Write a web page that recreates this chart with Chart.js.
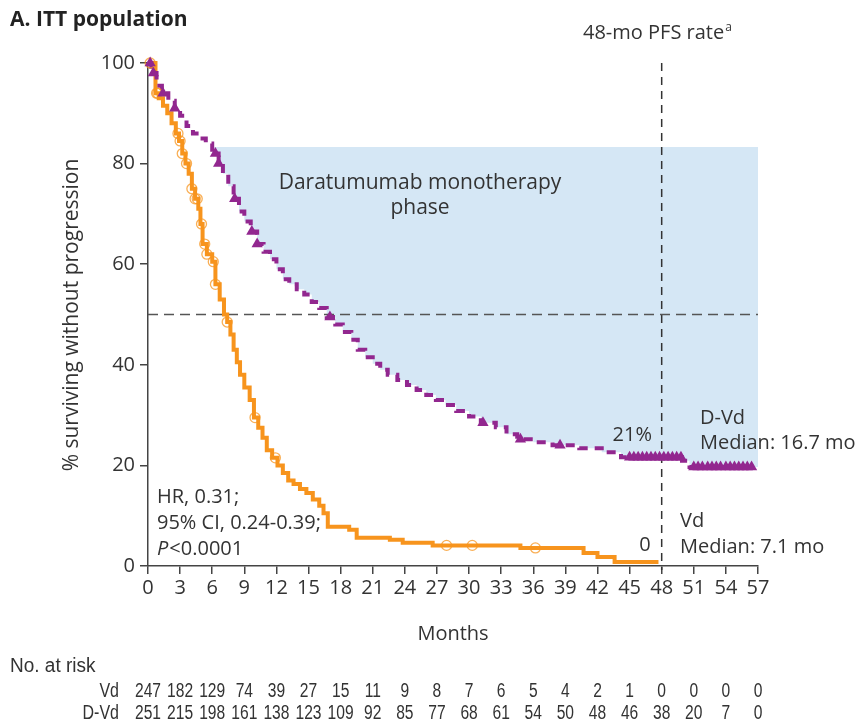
<!DOCTYPE html>
<html>
<head>
<meta charset="utf-8">
<script src="https://cdn.jsdelivr.net/npm/chart.js@4"></script>
<style>
  html, body { margin: 0; padding: 0; background: #fff; }
  canvas { display: block; }
</style>
</head>
<body>
<canvas id="pfs" width="862" height="724"></canvas>
<script>
// Kaplan-Meier steps: [month, % progression-free]
const vdCurve = [
  [0, 100], [0.7, 94], [1.0, 93], [1.4, 91.5], [1.8, 90], [2.2, 88], [2.6, 86], [2.9, 84.5],
  [3.2, 82], [3.5, 80], [3.8, 78], [4.1, 75], [4.4, 73], [4.7, 71], [4.9, 68], [5.1, 64],
  [5.5, 62], [6.0, 60.5], [6.3, 56], [6.7, 53], [7.1, 50], [7.4, 48.5], [7.7, 46], [8.0, 43],
  [8.3, 40.5], [8.6, 38], [9.0, 35.5], [9.5, 33], [9.9, 29.5], [10.3, 27.5], [10.7, 25.5],
  [11.1, 23], [11.6, 21.5], [12.1, 20], [12.6, 18.5], [13.1, 17], [13.6, 16.3], [14.2, 15.3],
  [14.8, 14.5], [15.4, 13.2], [16.0, 12], [16.4, 10.5], [16.8, 7.8], [18.8, 7.2], [19.5, 5.6],
  [22.6, 5.2], [23.8, 4.6], [26.6, 4.1], [34.8, 3.6], [40.7, 2.6], [42.0, 1.8], [43.6, 0.8], [47.7, 0.8]
];
const dvdCurve = [
  [0, 100], [0.3, 98], [0.8, 95.5], [1.3, 94], [1.9, 92.5], [2.5, 91], [3.0, 89.5], [3.6, 87.5],
  [4.2, 86], [4.8, 85], [5.4, 84], [6.0, 82], [6.6, 80], [7.0, 78], [7.5, 75.5], [8.0, 73],
  [8.5, 70.5], [9.0, 68.5], [9.6, 66.5], [10.2, 64], [10.8, 62.5], [11.4, 61], [12.0, 59],
  [12.6, 57], [13.2, 56], [13.9, 55], [14.6, 54], [15.3, 52.5], [16.0, 51.3], [16.7, 49.5],
  [17.5, 48], [18.2, 46.5], [19.0, 45], [19.6, 43], [20.3, 41.5], [21.0, 40.2], [21.7, 39],
  [22.4, 38], [23.3, 37], [24.2, 36], [25.1, 35], [26.0, 34], [26.9, 33], [27.8, 32],
  [28.8, 30.8], [30.0, 29.7], [31.1, 28.5], [32.5, 27.6], [33.5, 26.2], [34.5, 25.2],
  [36.0, 24.6], [37.8, 24], [40.3, 23.4], [42.4, 22.6], [44.2, 21.6], [49.9, 20.9],
  [50.6, 19.7], [56.6, 19.7]
];

// censored observations (months)
const vdCensored = [0.2, 0.8, 0.9, 2.8, 3.0, 3.2, 3.6, 4.1, 4.4, 4.6, 5.0, 5.3, 5.5, 6.1, 6.3, 7.4, 10.0, 11.9, 27.9, 30.3, 36.2];
const dvdCensored = [0.2, 0.5, 1.4, 2.5, 6.3, 6.6, 8.1, 9.7, 10.2, 17.0, 31.3, 34.8, 38.5,
  45.0, 45.4, 45.8, 46.2, 46.6, 47.0, 47.4, 47.8, 48.2, 48.6, 49.0, 49.4, 49.8,
  51.0, 51.4, 51.8, 52.3, 52.7, 53.1, 53.5, 54.0, 54.4, 54.8, 55.2, 55.6, 56.0, 56.4];

// shaded monotherapy phase: from month 5.8 up to 83.3%
const phaseStart = 5.8;
const phaseEnd = 57;
const phaseTop = 83.3;

const landmarkMonth = 48;
const medianLevel = 50;

// number at risk, every 3 months
const riskMonths = [0, 3, 6, 9, 12, 15, 18, 21, 24, 27, 30, 33, 36, 39, 42, 45, 48, 51, 54, 57];
const riskVd = [247, 182, 129, 74, 39, 27, 15, 11, 9, 8, 7, 6, 5, 4, 2, 1, 0, 0, 0, 0];
const riskDVd = [251, 215, 198, 161, 138, 123, 109, 92, 85, 77, 68, 61, 54, 50, 48, 46, 38, 20, 7, 0];

const ORANGE = '#f7941d';
const PURPLE = '#92278f';
const BAND = '#d5e7f5';
const INK = '#333';
const FONT = '"Open Sans", "DejaVu Sans", sans-serif';
const TABLE_FONT = '20px "Liberation Sans", Arial, sans-serif';

function survAt(curve, t) {
  let s = curve[0][1];
  for (const [m, v] of curve) { if (m <= t) s = v; else break; }
  return s;
}
const pts = curve => curve.map(([x, y]) => ({ x, y }));

// band follows the D-Vd curve from the start of the monotherapy phase
const bandData = [{ x: phaseStart, y: phaseTop }]
  .concat(dvdCurve.filter(p => p[0] > phaseStart).map(([x, y]) => ({ x, y })))
  .concat([{ x: phaseEnd, y: survAt(dvdCurve, phaseEnd) }]);

// condensed text: squeeze horizontally around the anchor point
function narrowText(ctx, str, x, y, squeeze) {
  ctx.save();
  ctx.translate(x, y);
  ctx.scale(squeeze, 1);
  ctx.fillText(str, 0, 0);
  ctx.restore();
}

const textPlugin = {
  id: 'labels',
  afterDraw(chart) {
    const ctx = chart.ctx;
    const xs = chart.scales.x;
    ctx.save();
    ctx.fillStyle = INK;
    ctx.textBaseline = 'middle';

    ctx.font = 'bold 21px ' + FONT;
    ctx.textAlign = 'left';
    ctx.fillStyle = '#222';
    ctx.fillText('A. ITT population', 10, 20);
    ctx.fillStyle = INK;

    ctx.font = '20px ' + FONT;
    ctx.fillText('48-mo PFS rate', 583, 33);
    const w = ctx.measureText('48-mo PFS rate').width;
    ctx.font = '12px ' + FONT;
    ctx.fillText('a', 583 + w + 1, 28);

    ctx.font = '21px ' + FONT;
    ctx.textAlign = 'center';
    ctx.fillText('Daratumumab monotherapy', 420, 183);
    ctx.fillText('phase', 420, 208);

    ctx.font = '20px ' + FONT;
    ctx.textAlign = 'right';
    ctx.fillText('21%', 652, 435);
    ctx.textAlign = 'left';
    ctx.fillText('D-Vd', 700, 418);
    ctx.fillText('Median: 16.7 mo', 700, 443);
    ctx.fillText('Vd', 680, 521);
    ctx.fillText('Median: 7.1 mo', 680, 547);
    ctx.textAlign = 'center';
    ctx.fillText('0', 645, 545);

    ctx.textAlign = 'left';
    ctx.fillText('HR, 0.31;', 157, 497);
    ctx.fillText('95% CI, 0.24-0.39;', 157, 523);
    ctx.font = 'italic 20px ' + FONT;
    ctx.fillText('P', 157, 549);
    const pw = ctx.measureText('P').width;
    ctx.font = '20px ' + FONT;
    ctx.fillText('<0.0001', 157 + pw + 1, 549);

    ctx.textAlign = 'center';
    ctx.fillText('Months', 453, 634);
    ctx.save();
    ctx.font = '21px ' + FONT;
    ctx.translate(72, 315);
    ctx.rotate(-Math.PI / 2);
    ctx.fillText('% surviving without progression', 0, 0);
    ctx.restore();

    // number at risk table
    ctx.font = TABLE_FONT;
    ctx.textAlign = 'left';
    narrowText(ctx, 'No. at risk', 10, 666, 0.95);
    ctx.textAlign = 'right';
    narrowText(ctx, 'Vd', 119, 691, 0.8);
    narrowText(ctx, 'D-Vd', 119, 713, 0.8);
    ctx.textAlign = 'center';
    riskMonths.forEach((m, i) => {
      const x = xs.getPixelForValue(m);
      narrowText(ctx, String(riskVd[i]), x, 691, 0.78);
      narrowText(ctx, String(riskDVd[i]), x, 713, 0.78);
    });
    ctx.restore();
  }
};

new Chart(document.getElementById('pfs'), {
  type: 'line',
  data: {
    datasets: [
      { data: bandData, stepped: true, borderWidth: 0, pointRadius: 0, backgroundColor: BAND, fill: { value: phaseTop }, order: 6 },
      { data: [{ x: 0, y: medianLevel }, { x: phaseEnd, y: medianLevel }], borderColor: '#555', borderWidth: 1.5, borderDash: [10, 6], pointRadius: 0, order: 5 },
      { data: [{ x: landmarkMonth, y: 100 }, { x: landmarkMonth, y: -0.8 }], borderColor: '#333', borderWidth: 1.5, borderDash: [8, 6], pointRadius: 0, order: 5 },
      { label: 'Vd', data: pts(vdCurve), stepped: true, borderColor: ORANGE, borderWidth: 4, pointRadius: 0, order: 3 },
      { label: 'D-Vd', data: pts(dvdCurve), stepped: true, borderColor: PURPLE, borderWidth: 4, borderDash: [9, 7], pointRadius: 0, order: 2 },
      { data: vdCensored.map(t => ({ x: t, y: survAt(vdCurve, t) })), showLine: false, pointStyle: 'circle', pointRadius: 5, pointBorderWidth: 1.3, pointBorderColor: 'rgba(247,148,29,0.75)', pointBackgroundColor: 'rgba(255,255,255,0)', order: 1 },
      { data: dvdCensored.map(t => ({ x: t, y: survAt(dvdCurve, t) })), showLine: false, pointStyle: 'triangle', pointRadius: 6.5, pointBorderWidth: 0, pointBackgroundColor: PURPLE, pointBorderColor: PURPLE, order: 0 }
    ]
  },
  options: {
    responsive: false,
    animation: false,
    devicePixelRatio: 1,
    clip: false,
    layout: { padding: { left: 0, top: 63, right: 104, bottom: 118 } },
    plugins: { legend: { display: false }, tooltip: { enabled: false } },
    elements: { line: { fill: false, tension: 0 } },
    scales: {
      x: {
        type: 'linear', min: 0, max: 57,
        ticks: { stepSize: 3, color: INK, font: { family: FONT, size: 20 }, padding: 2, maxRotation: 0 },
        grid: { drawOnChartArea: false, drawTicks: true, tickLength: 8, color: '#444', lineWidth: 1.5 },
        border: { display: true, color: '#444', width: 1.5 },
        afterFit(s) { s.height = 40; }
      },
      y: {
        min: 0, max: 100,
        ticks: { stepSize: 20, color: INK, font: { family: FONT, size: 20 }, padding: 5 },
        grid: { drawOnChartArea: false, drawTicks: true, tickLength: 8, color: '#444', lineWidth: 1.5 },
        border: { display: true, color: '#444', width: 1.5 },
        afterFit(s) { s.width = 148; }
      }
    }
  },
  plugins: [textPlugin]
});
</script>
</body>
</html>
